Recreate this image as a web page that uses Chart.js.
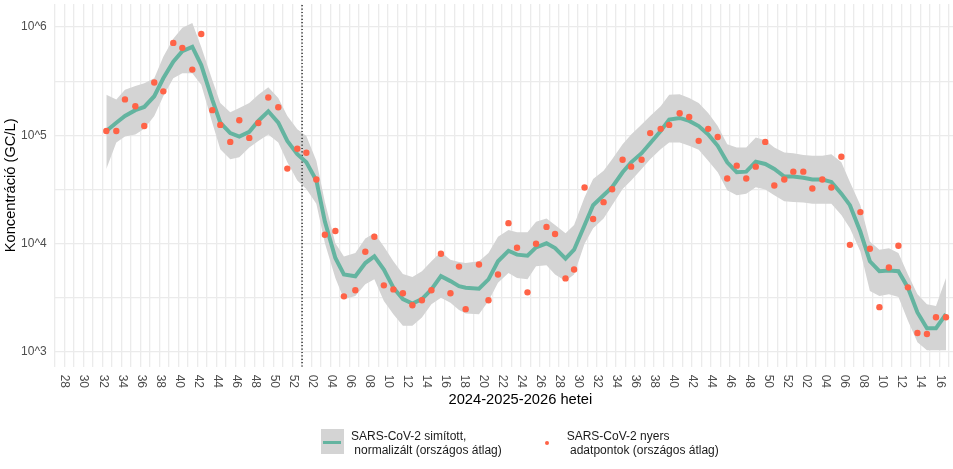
<!DOCTYPE html>
<html>
<head>
<meta charset="utf-8">
<title>SARS-CoV-2 szennyvíz koncentráció</title>
<script src="https://cdn.jsdelivr.net/npm/chart.js@4.4.1/dist/chart.umd.min.js"></script>
<style>
    html, body { margin: 0; padding: 0; background: #fff; }
    #wrap { position: relative; width: 953px; height: 469px; overflow: hidden; }
    #chart { position: absolute; left: 0; top: 0; }
    .legend-text {
        position: absolute;
        font: 12px "Liberation Sans", Arial, sans-serif;
        line-height: 14.5px;
        color: #1a1a1a;
        white-space: pre;
    }
    .key-ribbon { position: absolute; left: 321px; top: 429px; width: 23px; height: 25px; background: #d4d4d4; }
    .key-ribbon span { position: absolute; left: 2px; top: 11.5px; width: 18px; height: 3px; background: #64b4a0; }
    .key-dot { position: absolute; left: 545.3px; top: 440.7px; width: 4px; height: 4px; border-radius: 50%; background: #ff6347; }
</style>
</head>
<body>
<div id="wrap">
    <canvas id="chart" width="994" height="469"></canvas>
    <div class="key-ribbon"><span></span></div>
    <div class="legend-text" style="left:351px; top:428.9px;">SARS-CoV-2 simított,
 normalizált (országos átlag)</div>
    <div class="key-dot"></div>
    <div class="legend-text" style="left:566.7px; top:428.9px;">SARS-CoV-2 nyers
 adatpontok (országos átlag)</div>
</div>
<script>
// week labels on the x axis, one every 2 weeks starting at 2024-W28
const weekTickLabels = [
    '28', '30', '32', '34', '36', '38', '40', '42', '44', '46', '48', '50', '52',
    '02', '04', '06', '08', '10', '12', '14', '16', '18', '20', '22', '24', '26',
    '28', '30', '32', '34', '36', '38', '40', '42', '44', '46', '48', '50', '52',
    '02', '04', '06', '08', '10', '12', '14', '16'
];
const yTickValues = [1e3, 3162, 1e4, 31623, 1e5, 316228, 1e6];
const yTickLabels = ['10^3', '', '10^4', '', '10^5', '', '10^6'];
const yearStartWeek = 25; // 2025-W01, weeks counted from 2024-W28

// sampling position in weeks since 2024-W28
const sampleWeek = [
    4.42, 5.47, 6.38, 7.47, 8.41, 9.46, 10.41, 11.46, 12.41, 13.46, 14.40, 15.56, 16.40, 17.45,
    18.4, 19.45, 20.4, 21.45, 22.5, 23.45, 24.5, 25.45, 26.5, 27.4, 28.5, 29.4, 30.6, 31.65, 32.6, 33.6, 34.6, 35.6,
    36.6, 37.6, 38.6, 39.6, 40.6, 41.5, 42.2, 43.6, 44.6, 45.6, 46.7, 47.6, 48.7, 49.6, 50.7, 51.6, 52.7, 53.6, 54.7,
    55.6, 56.7, 57.6, 58.7, 59.6, 60.7, 61.6, 62.7, 63.6, 64.7, 65.7, 66.7, 67.7, 68.7, 69.7, 70.7, 71.7, 72.7, 73.7,
    74.65, 75.7, 76.65, 77.7, 78.65, 79.7, 80.65, 81.7, 82.6, 83.7, 84.7, 85.7, 86.7, 87.7, 88.7, 89.7, 90.7, 91.65, 92.7
];

// raw national average (GC/L)
const rawValues = [
    1.10e5, 1.10e5, 2.15e5, 1.86e5, 1.22e5, 3.08e5, 2.55e5, 7.14e5, 6.43e5, 4.05e5, 8.63e5, 1.71e5, 1.25e5, 8.71e4,
    1.38e5, 9.48e4, 1.30e5, 2.24e5, 1.82e5, 4.94e4, 7.52e4, 6.92e4, 3.92e4, 1.21e4, 1.31e4, 3.27e3, 3.72e3, 8.43e3, 1.16e4, 4.13e3, 3.79e3, 3.49e3,
    2.71e3, 3.01e3, 3.72e3, 8.09e3, 3.49e3, 6.15e3, 2.49e3, 6.43e3, 3.01e3, 5.20e3, 1.55e4, 9.18e3, 3.56e3, 1.00e4, 1.43e4, 1.23e4, 4.79e3, 5.78e3, 3.31e4,
    1.69e4, 2.42e4, 3.18e4, 5.97e4, 5.15e4, 5.97e4, 1.05e5, 1.15e5, 1.25e5, 1.60e5, 1.48e5, 8.91e4, 1.15e5, 9.68e4, 4.00e4, 5.26e4, 4.00e4, 5.15e4, 8.71e4,
    3.45e4, 3.92e4, 4.63e4, 4.63e4, 3.24e4, 3.92e4, 3.31e4, 6.35e4, 9.77e3, 1.96e4, 8.99e3, 2.60e3, 6.03e3, 9.57e3, 3.96e3, 1.50e3, 1.47e3, 2.10e3, 2.10e3
];

// smoothed, normalised national average (GC/L)
const smoothValues = [
    1.10e5, 1.31e5, 1.51e5, 1.71e5, 1.83e5, 2.30e5, 3.37e5, 4.79e5, 5.98e5, 6.56e5, 4.46e5, 2.14e5, 1.31e5, 1.05e5,
    9.75e4, 1.08e5, 1.36e5, 1.67e5, 1.31e5, 8.89e4, 6.71e4, 5.64e4, 3.84e4, 1.60e4, 7.38e3, 5.20e3, 5.01e3, 6.64e3, 7.64e3, 5.78e3, 3.93e3, 3.09e3,
    2.81e3, 3.08e3, 3.79e3, 5.02e3, 4.52e3, 4.06e3, 3.93e3, 3.85e3, 4.69e3, 6.89e3, 8.61e3, 7.93e3, 7.76e3, 9.25e3, 1.01e4, 9.12e3, 7.28e3, 8.81e3, 1.48e4,
    2.27e4, 2.80e4, 3.33e4, 4.57e4, 5.64e4, 6.85e4, 8.47e4, 1.10e5, 1.40e5, 1.45e5, 1.36e5, 1.22e5, 1.02e5, 8.02e4, 5.64e4, 4.57e4, 4.63e4, 5.73e4, 5.45e4,
    4.90e4, 4.17e4, 4.17e4, 4.06e4, 3.92e4, 3.92e4, 3.72e4, 2.90e4, 2.27e4, 1.29e4, 6.89e3, 5.58e3, 5.66e3, 5.58e3, 3.93e3, 2.32e3, 1.66e3, 1.66e3, 2.24e3
];

// confidence band of the smoothed curve
const bandUpper = [
    2.37e5, 2.14e5, 2.64e5, 2.86e5, 3.03e5, 3.37e5, 5.32e5, 7.82e5, 9.86e5, 1.09e6, 6.56e5, 3.25e5, 1.99e5, 1.64e5,
    1.79e5, 1.99e5, 2.37e5, 2.79e5, 2.21e5, 1.51e5, 1.14e5, 9.89e4, 5.85e4, 2.43e4, 1.01e4, 7.64e3, 8.20e3, 1.12e4, 1.25e4, 9.44e3, 6.89e3, 5.25e3,
    4.92e3, 5.58e3, 6.89e3, 8.38e3, 7.13e3, 6.79e3, 6.64e3, 6.89e3, 8.20e3, 1.16e4, 1.34e4, 1.28e4, 1.28e4, 1.60e4, 1.71e4, 1.49e4, 1.25e4, 1.49e4, 2.69e4,
    3.97e4, 4.73e4, 6.04e4, 8.28e4, 1.02e5, 1.26e5, 1.51e5, 1.86e5, 2.37e5, 2.40e5, 2.21e5, 1.99e5, 1.61e5, 1.22e5, 8.28e4, 7.73e4, 7.73e4, 9.55e4, 9.02e4,
    7.73e4, 6.97e4, 6.85e4, 6.58e4, 6.49e4, 6.49e4, 6.71e4, 5.64e4, 3.71e4, 2.27e4, 1.05e4, 8.81e3, 9.10e3, 8.20e3, 5.20e3, 3.42e3, 2.77e3, 2.67e3, 4.84e3
];
const bandLower = [
    4.90e4, 8.59e4, 9.75e4, 1.02e5, 1.15e5, 1.51e5, 2.30e5, 3.37e5, 3.74e5, 3.74e5, 2.93e5, 1.31e5, 7.46e4, 6.03e4,
    6.27e4, 7.73e4, 8.89e4, 1.02e5, 8.59e4, 5.64e4, 3.84e4, 3.21e4, 2.34e4, 1.01e4, 4.84e3, 3.08e3, 3.30e3, 4.22e3, 4.69e3, 2.96e3, 2.24e3, 1.75e3,
    1.75e3, 2.09e3, 2.77e3, 3.18e3, 2.86e3, 2.44e3, 2.27e3, 2.24e3, 2.96e3, 4.36e3, 5.38e3, 4.84e3, 4.69e3, 6.19e3, 6.32e3, 5.20e3, 4.52e3, 5.20e3, 1.00e4,
    1.39e4, 1.71e4, 2.27e4, 3.21e4, 3.84e4, 4.90e4, 6.04e4, 7.46e4, 8.59e4, 8.59e4, 8.02e4, 7.36e4, 5.85e4, 4.57e4, 3.11e4, 2.80e4, 2.90e4, 3.33e4, 3.16e4,
    2.80e4, 2.47e4, 2.43e4, 2.40e4, 2.34e4, 2.34e4, 2.34e4, 1.84e4, 1.39e4, 8.49e3, 3.66e3, 3.30e3, 3.42e3, 3.23e3, 1.95e3, 1.23e3, 1.04e3, 1.04e3, 1.04e3
];

const FONT = '"Liberation Sans", Arial, sans-serif';
const X_MIN = -1.05, X_MAX = 96.96;
const Y_MIN = 733, Y_MAX = 1.633e6;
const GRID = '#ebebeb';

Chart.defaults.font.family = FONT;

function points(values) {
    return sampleWeek.map((x, i) => ({ x: x, y: values[i] }));
}

// x tick labels read top-to-bottom (rotated clockwise), so they are drawn here
const weekLabelPlugin = {
    id: 'weekLabels',
    afterDraw(chart) {
        const { ctx, chartArea } = chart;
        const xScale = chart.scales.x;
        ctx.save();
        ctx.fillStyle = '#4d4d4d';
        ctx.font = '12px ' + FONT;
        ctx.textAlign = 'left';
        ctx.textBaseline = 'middle';
        weekTickLabels.forEach((label, k) => {
            const px = xScale.getPixelForValue(k * 2);
            ctx.save();
            ctx.translate(px + 0.5, chartArea.bottom + 8);
            ctx.rotate(Math.PI / 2);
            ctx.fillText(label, 0, 0);
            ctx.restore();
        });
        ctx.restore();
    }
};

const ctx = document.getElementById('chart').getContext('2d');
new Chart(ctx, {
    type: 'line',
    data: {
        datasets: [
            {
                label: 'band upper',
                data: points(bandUpper),
                borderWidth: 0,
                pointRadius: 0,
                backgroundColor: '#d4d4d4',
                fill: '+1',
                order: 4
            },
            {
                label: 'band lower',
                data: points(bandLower),
                borderWidth: 0,
                pointRadius: 0,
                fill: false,
                order: 5
            },
            {
                label: 'year start',
                data: [{ x: yearStartWeek, y: Y_MIN }, { x: yearStartWeek, y: Y_MAX }],
                borderColor: '#000',
                borderWidth: 1.2,
                borderDash: [1.2, 2.2],
                pointRadius: 0,
                fill: false,
                order: 2
            },
            {
                label: 'SARS-CoV-2 simított, normalizált (országos átlag)',
                data: points(smoothValues),
                borderColor: '#64b4a0',
                borderWidth: 4,
                pointRadius: 0,
                tension: 0,
                fill: false,
                order: 1
            },
            {
                label: 'SARS-CoV-2 nyers adatpontok (országos átlag)',
                data: points(rawValues),
                showLine: false,
                pointRadius: 3.2,
                pointBackgroundColor: '#ff6347',
                pointBorderWidth: 0,
                fill: false,
                order: 0
            }
        ]
    },
    options: {
        responsive: false,
        animation: false,
        layout: { padding: { left: 0, right: 7.5, top: 0, bottom: 56.7 } },
        plugins: {
            legend: { display: false },
            tooltip: { enabled: false }
        },
        scales: {
            x: {
                type: 'linear',
                min: X_MIN,
                max: X_MAX,
                afterBuildTicks: (scale) => {
                    const ticks = [];
                    for (let w = -1; w <= 96; w++) ticks.push({ value: w });
                    scale.ticks = ticks;
                },
                afterFit: (scale) => { scale.height = 45.6; },
                ticks: { display: false },
                grid: { color: GRID, lineWidth: 1.3, drawTicks: false },
                border: { display: false },
                title: {
                    display: true,
                    text: '2024-2025-2026 hetei',
                    color: '#000',
                    font: { size: 14.7 },
                    padding: { top: 20, bottom: 4 }
                }
            },
            y: {
                type: 'logarithmic',
                min: Y_MIN,
                max: Y_MAX,
                afterBuildTicks: (scale) => {
                    scale.ticks = yTickValues.map(v => ({ value: v }));
                },
                afterFit: (scale) => {
                    scale.width = 54.3;
                    scale.paddingTop = 0;
                    scale.paddingBottom = 0;
                },
                ticks: {
                    color: '#4d4d4d',
                    font: { size: 12 },
                    padding: 7.6,
                    autoSkip: false,
                    callback: (value, index) => yTickLabels[index]
                },
                grid: { color: GRID, lineWidth: 1.3, drawTicks: false },
                border: { display: false },
                title: {
                    display: true,
                    text: 'Koncentráció (GC/L)',
                    color: '#000',
                    font: { size: 14.7 },
                    padding: { top: 2.5, bottom: 0 }
                }
            }
        }
    },
    plugins: [weekLabelPlugin]
});
</script>
</body>
</html>
